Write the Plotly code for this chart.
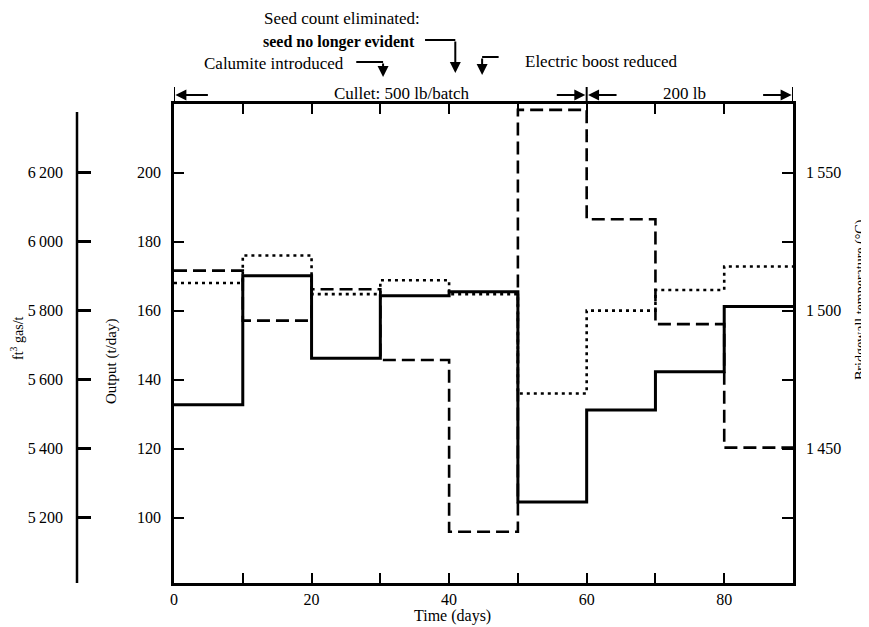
import plotly.graph_objects as go

# ---- data ----
period_start_days = [0, 10, 20, 30, 40, 50, 60, 70, 80]
period_end_day = 90
output_t_per_day = [132.7, 170.1, 146.2, 164.3, 165.5, 104.5, 131.2, 142.3, 161.2]
gas_ft3_per_t = [5916, 5771, 5862, 5657, 5159, 6382, 6065, 5761, 5403]
bridgewall_temp_c = [1510, 1520, 1506, 1511, 1506, 1470, 1500, 1507.5, 1516]

x_tick_vals = [0, 10, 20, 30, 40, 50, 60, 70, 80, 90]
x_tick_text = ["0", "", "20", "", "40", "", "60", "", "80", ""]
out_tick_vals = [100, 120, 140, 160, 180, 200]
out_tick_text = ["100", "120", "140", "160", "180", "200"]
gas_tick_vals = [5200, 5400, 5600, 5800, 6000, 6200]
gas_tick_text = ["5\u2009200", "5\u2009400", "5\u2009600", "5\u2009800", "6\u2009000", "6\u2009200"]
temp_tick_vals = [1425, 1450, 1475, 1500, 1525, 1550]
temp_tick_text = ["", "1\u2009450", "", "1\u2009500", "", "1\u2009550"]

# the page body adds an 8px offset, so the figure is 8px smaller than the window
W, H = 861, 619
ML, MR, MT, MB = 69, 76, 96, 44
PH = H - MT - MB          # 479
PW = W - ML - MR          # 716


def py(ypx):  # reference-image y pixel -> paper y
    return (583 - ypx) / PH


def xp(xpx):  # reference-image x pixel -> paper x
    return (xpx - 77) / PW


def steps(vals):
    return period_start_days + [period_end_day], vals + [vals[-1]]


FONT = "Liberation Serif, Times New Roman, serif"
fig = go.Figure()

x, y = steps(gas_ft3_per_t)
fig.add_trace(go.Scatter(x=x, y=y, yaxis="y3", mode="lines", line_shape="hv",
                         line=dict(color="black", width=2.6, dash="13px,6px"),
                         name="Gas", showlegend=False))
x, y = steps(bridgewall_temp_c)
fig.add_trace(go.Scatter(x=x, y=y, yaxis="y2", mode="lines", line_shape="hv",
                         line=dict(color="black", width=2.6, dash="3px,4px"),
                         name="Temperature", showlegend=False))
x, y = steps(output_t_per_day)
fig.add_trace(go.Scatter(x=x, y=y, yaxis="y", mode="lines", line_shape="hv",
                         line=dict(color="black", width=3),
                         name="Output", showlegend=False))

out_rng = [81.05, 219.9]
gas_rng = [5200 + (out_rng[0] - 100) * 10, 5200 + (out_rng[1] - 100) * 10]
temp_rng = [1550 + (out_rng[0] - 200) * 1.25, 1550 + (out_rng[1] - 200) * 1.25]

axis_font = dict(family=FONT, size=16, color="black")
dom0 = (174 - 77) / PW

fig.update_layout(
    width=W, height=H,
    margin=dict(l=ML, r=MR, t=MT, b=MB),
    paper_bgcolor="white", plot_bgcolor="white",
    font=dict(family=FONT, size=13, color="black"),
    xaxis=dict(domain=[dom0, 1], range=[0, 90], tickvals=x_tick_vals, ticktext=x_tick_text,
               ticks="inside", ticklen=10, tickwidth=2, tickcolor="black",
               showline=True, linewidth=2.5, linecolor="black", mirror="ticks",
               showgrid=False, zeroline=False, tickfont=axis_font, ticklabelstandoff=0),
    yaxis=dict(range=out_rng, tickvals=out_tick_vals, ticktext=out_tick_text,
               ticks="inside", ticklen=10, tickwidth=2, tickcolor="black",
               showline=True, linewidth=2.5, linecolor="black",
               showgrid=False, zeroline=False, tickfont=axis_font, ticklabelstandoff=7),
    yaxis2=dict(range=temp_rng, overlaying="y", side="right", anchor="x",
                tickvals=temp_tick_vals, ticktext=temp_tick_text,
                ticks="inside", ticklen=11, tickwidth=2, tickcolor="black",
                showline=True, linewidth=2.5, linecolor="black",
                showgrid=False, zeroline=False, tickfont=axis_font, ticklabelstandoff=7),
    yaxis3=dict(range=gas_rng, overlaying="y", side="left", anchor="free", position=0,
                tickvals=gas_tick_vals, ticktext=gas_tick_text,
                ticks="inside", ticklen=13, tickwidth=2.5, tickcolor="black",
                showline=False, showgrid=False, zeroline=False, tickfont=axis_font,
                ticklabelstandoff=14),
)

shapes = []
# outer gas axis line
shapes.append(dict(type="line", xref="paper", yref="paper", x0=0, x1=0, y0=py(583), y1=py(112),
                   line=dict(color="black", width=2.5)))
# cullet bars
for d in [0, 60, 90]:
    shapes.append(dict(type="line", xref="x", yref="paper", x0=d, x1=d, y0=py(104), y1=py(87),
                       line=dict(color="black", width=2)))
# horizontal parts of bent arrows
shapes.append(dict(type="line", xref="x", yref="paper", x0=36.5, x1=40.9, y0=py(40), y1=py(40),
                   line=dict(color="black", width=2)))
shapes.append(dict(type="line", xref="x", yref="paper", x0=26.5, x1=30.4, y0=py(62), y1=py(62),
                   line=dict(color="black", width=2)))
shapes.append(dict(type="line", xref="x", yref="paper", x0=44.8, x1=47.2, y0=py(57), y1=py(57),
                   line=dict(color="black", width=2)))
fig.update_layout(shapes=shapes)

ann = []


def arrow(xd, ytip, ax, ay):
    ann.append(dict(x=xd, y=py(ytip), xref="x", yref="paper", text="", showarrow=True,
                    ax=ax, ay=ay, arrowhead=2, arrowsize=1.1, arrowwidth=2, arrowcolor="black"))


# down arrows
arrow(40.9, 73, 0, -33)
arrow(30.4, 77, 0, -15)
arrow(44.8, 75, 0, -18)
# cullet arrows
arrow(0.2, 95, 34, 0)
arrow(59.8, 95, -30, 0)
arrow(60.2, 95, 30, 0)
arrow(89.8, 95, -30, 0)


def text(xpx, ypx, s, anchor="center", size=17, rot=0):
    ann.append(dict(x=xp(xpx), y=py(ypx), xref="paper", yref="paper", text=s, showarrow=False,
                    xanchor=anchor, yanchor="middle", textangle=rot,
                    font=dict(family=FONT, size=size, color="black")))


text(342, 18, "Seed count eliminated:")
text(339, 42, "<b>seed no longer evident</b>", size=16)
text(274, 63, "Calumite introduced")
text(601, 61, "Electric boost reduced")
text(402, 94, "Cullet: 500 lb/batch")
text(684, 94, "200 lb")
text(452, 616, "Time (days)", size=16)
text(17, 338, "ft<sup>3</sup> gas/t", size=14, rot=-90)
text(111, 362, "Output (t/day)", size=15, rot=-90)
text(861, 300, "Bridgewall temperature (°C)", size=14, rot=-90)
fig.update_layout(annotations=ann)

fig.write_html("out.html")
